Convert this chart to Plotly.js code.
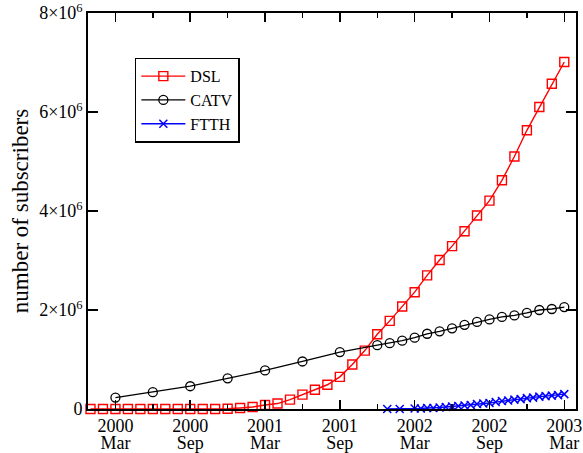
<!DOCTYPE html>
<html>
<head>
<meta charset="utf-8">
<script src="https://cdn.plot.ly/plotly-3.0.1.min.js"></script>
<style>html,body{margin:0;padding:0;background:#fff;}#chart{width:583px;height:453px;}</style>
</head>
<body>
<div id="chart"></div>
<script>
// x = months since January 2000 (0 = 2000 Jan)
const dslMonths = [0,1,2,3,4,5,6,7,8,9,10,11,12,13,14,15,16,17,18,19,20,21,22,23,24,25,26,27,28,29,30,31,32,33,34,35,36,37,38];
const dslMillions = [0,0,0,0,0,0,0,0,0,0,0,0.005,0.02,0.04,0.08,0.11,0.19,0.29,0.39,0.49,0.65,0.90,1.18,1.51,1.78,2.07,2.36,2.70,3.01,3.29,3.59,3.91,4.21,4.62,5.10,5.63,6.10,6.57,7.01];

const catvMonths = [2,5,8,11,14,17,20,23,24,25,26,27,28,29,30,31,32,33,34,35,36,37,38];
const catvMillions = [0.23,0.34,0.46,0.62,0.78,0.96,1.15,1.29,1.33,1.38,1.44,1.52,1.57,1.63,1.70,1.76,1.81,1.86,1.89,1.94,2.00,2.02,2.06];

const ftthMonths = [23.8,24.8,26.0,26.5,27.0,27.5,28.0,28.5,29.0,29.5,30.0,30.5,31.0,31.5,32.0,32.5,33.0,33.5,34.0,34.5,35.0,35.5,36.0,36.5,37.0,37.5,38.0];
const ftthMillions = [0.00,0.00,0.01,0.01,0.02,0.02,0.03,0.04,0.05,0.06,0.07,0.08,0.10,0.11,0.12,0.14,0.16,0.17,0.19,0.20,0.22,0.23,0.25,0.26,0.27,0.28,0.30];

const xTickVals = [2,8,14,20,26,32,38];
const xYearText = ['2000','2000','2001','2001','2002','2002','2003'];
const xMonthText = ['Mar','Sep','Mar','Sep','Mar','Sep','Mar'];
const xMinorVals = [5,11,17,23,29,35];
const yTickVals = [0,2e6,4e6,6e6,8e6];
const yTickText = ['0','2×10<sup>6</sup>','4×10<sup>6</sup>','6×10<sup>6</sup>','8×10<sup>6</sup>'];

const M = 1e6;
const serif = 'Liberation Serif, Times New Roman, serif';
const xRange = [-0.2, 38.94];

const traces = [
  {x: dslMonths, y: dslMillions.map(v => v*M), name: 'DSL', type: 'scatter', mode: 'lines+markers',
   line: {color: '#ff0000', width: 1.4},
   marker: {symbol: 'square-open', size: 9, color: '#ff0000', line: {width: 1.4, color: '#ff0000'}},
   cliponaxis: false},
  {x: catvMonths, y: catvMillions.map(v => v*M), name: 'CATV', type: 'scatter', mode: 'lines+markers',
   line: {color: '#000000', width: 1.3},
   marker: {symbol: 'circle-open', size: 9, color: '#000000', line: {width: 1.3, color: '#000000'}},
   cliponaxis: false},
  {x: ftthMonths, y: ftthMillions.map(v => v*M), name: 'FTTH', type: 'scatter', mode: 'lines+markers',
   line: {color: '#0000ff', width: 1.4},
   marker: {symbol: 'x-thin-open', size: 8, color: '#0000ff', line: {width: 1.5, color: '#0000ff'}},
   cliponaxis: false},
  // carrier for the second (month) label row of the time axis
  {x: [], y: [], xaxis: 'x2', yaxis: 'y', type: 'scatter', mode: 'markers',
   showlegend: false, hoverinfo: 'skip'}
];

const layout = {
  width: 583, height: 453,
  margin: {l: 88, r: 7, t: 13, b: 44},
  paper_bgcolor: '#ffffff', plot_bgcolor: '#ffffff',
  font: {family: serif, size: 18, color: '#000'},
  showlegend: true,
  legend: {x: 0.096, y: 0.887, xanchor: 'left', yanchor: 'top',
           bordercolor: '#000', borderwidth: 1.5, bgcolor: '#fff',
           itemwidth: 44, tracegroupgap: 0,
           font: {family: serif, size: 16, color: '#000'}},
  xaxis: {range: xRange, showgrid: false, zeroline: false,
          showline: true, linecolor: '#000', linewidth: 1.8, mirror: 'ticks',
          ticks: 'inside', ticklen: 9, tickwidth: 1.5, tickcolor: '#000',
          tickmode: 'array', tickvals: xTickVals, ticktext: xYearText,
          tickfont: {family: serif, size: 18, color: '#000'},
          minor: {tickvals: xMinorVals, ticks: 'inside', ticklen: 5, tickwidth: 1.5, tickcolor: '#000', showgrid: false}},
  xaxis2: {range: xRange, overlaying: 'x', anchor: 'y', side: 'bottom',
           showgrid: false, zeroline: false, showline: false, ticks: '',
           tickmode: 'array', tickvals: xTickVals, ticktext: xMonthText,
           ticklabelstandoff: 21,
           tickfont: {family: serif, size: 18, color: '#000'}},
  yaxis: {range: [0, 8e6], showgrid: false, zeroline: false,
          showline: true, linecolor: '#000', linewidth: 1.8, mirror: 'ticks',
          ticks: 'inside', ticklen: 10, tickwidth: 1.5, tickcolor: '#000',
          tickmode: 'array', tickvals: yTickVals, ticktext: yTickText,
          tickfont: {family: serif, size: 18, color: '#000'},
          title: {text: 'number of subscribers', font: {family: serif, size: 23, color: '#000'}, standoff: 4}}
};

Plotly.newPlot('chart', traces, layout, {displayModeBar: false, staticPlot: true});
</script>
</body>
</html>
